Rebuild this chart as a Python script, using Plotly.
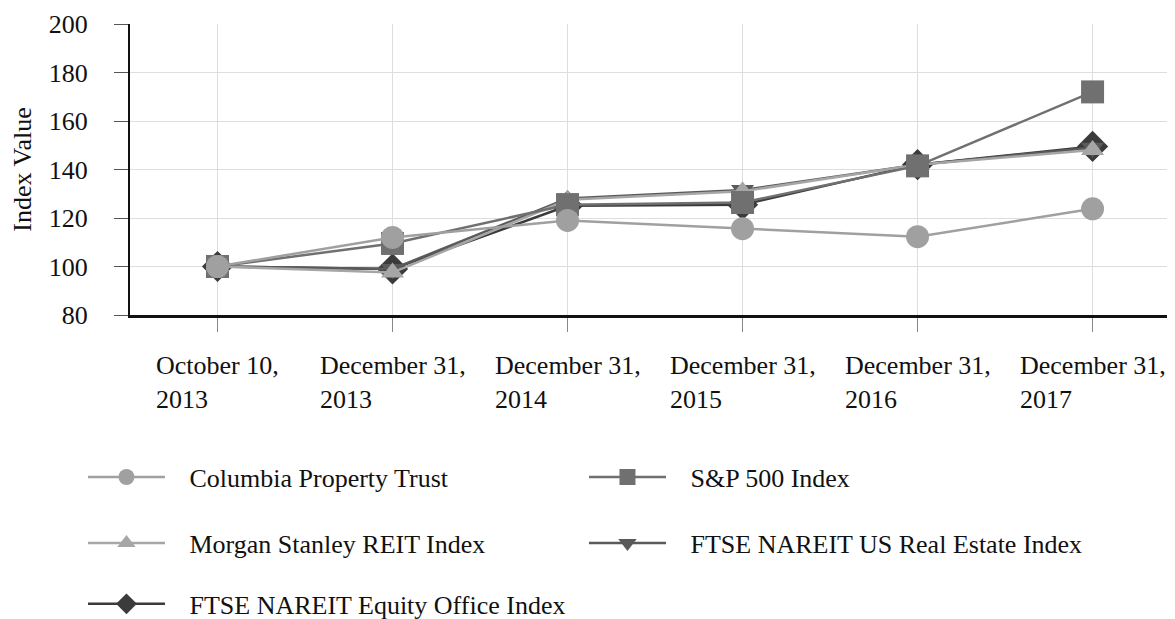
import plotly.graph_objects as go

categories = ["October 10,<br>2013", "December 31,<br>2013", "December 31,<br>2014",
              "December 31,<br>2015", "December 31,<br>2016", "December 31,<br>2017"]
x_keys = ["Oct 2013", "Dec 2013", "Dec 2014", "Dec 2015", "Dec 2016", "Dec 2017"]

columbia = [100, 112, 119, 115.6, 112.3, 123.8]
sp500 = [100, 109.5, 125.5, 126.4, 141.5, 172]
morgan = [100, 97.5, 127.5, 131, 142, 148]
us_re = [100, 99, 128, 131.5, 142, 149]
equity_office = [100, 99, 125, 125.5, 142, 149.5]

y_ticks = [80, 100, 120, 140, 160, 180, 200]

FONT = "Liberation Serif"
FS = 26
PAD = "\u00a0\u00a0\u00a0"

# drawn bottom-to-top
series = [
    ("FTSE NAREIT Equity Office Index", equity_office, "#3b3b3b", "diamond", 24, "legend3"),
    ("FTSE NAREIT US Real Estate Index", us_re, "#5a5a5a", "triangle-down", 20, "legend2"),
    ("Morgan Stanley REIT Index", morgan, "#a6a6a6", "triangle-up", 20, "legend2"),
    ("S&P 500 Index", sp500, "#707070", "square", 23, "legend"),
    ("Columbia Property Trust", columbia, "#a0a0a0", "circle", 23, "legend"),
]

fig = go.Figure()
for name, vals, color, sym, size, leg in series:
    fig.add_trace(go.Scatter(
        x=x_keys, y=vals, name=PAD + name, mode="lines+markers",
        line=dict(color=color, width=2.5),
        marker=dict(symbol=sym, size=size, color=color),
        legend=leg,
    ))

for key, label in zip(x_keys, categories):
    fig.add_annotation(x=key, xref="x", y=-0.117, yref="paper", text=label,
                       showarrow=False, xanchor="center", yanchor="top", align="left",
                       font=dict(family=FONT, size=FS, color="#111"))

leg_common = dict(orientation="h", xanchor="left", yanchor="middle",
                  font=dict(family=FONT, size=FS, color="#111"),
                  entrywidthmode="pixels", entrywidth=409, itemwidth=77,
                  traceorder="reversed", itemsizing="trace", bgcolor="rgba(0,0,0,0)")

fig.update_layout(
    width=1167, height=611,
    margin=dict(l=122, r=0, t=16, b=304, autoexpand=False),
    plot_bgcolor="white", paper_bgcolor="white",
    font=dict(family=FONT, size=FS, color="#111"),
    showlegend=True,
    legend=dict(x=-0.045, y=-0.557, **leg_common),
    legend2=dict(x=-0.045, y=-0.784, **leg_common),
    legend3=dict(x=-0.045, y=-0.993, **leg_common),
    xaxis=dict(type="category", range=[-0.5, 5.471], showticklabels=False,
               showgrid=True, gridcolor="#dedede", gridwidth=1,
               showline=True, linecolor="#111", linewidth=2.5,
               ticks="outside", ticklen=14, tickcolor="#888", tickwidth=1),
    yaxis=dict(range=[80, 200], tickvals=y_ticks, showgrid=True, gridcolor="#dedede",
               gridwidth=1, zeroline=False,
               showline=True, linecolor="#111", linewidth=2,
               ticks="outside", ticklen=14, tickcolor="#555", tickwidth=1,
               ticklabelstandoff=21,
               tickfont=dict(family=FONT, size=FS, color="#111"),
               title=dict(text="Index Value", standoff=10,
                          font=dict(family=FONT, size=FS, color="#111"))),
)

fig.write_html("out.html")
